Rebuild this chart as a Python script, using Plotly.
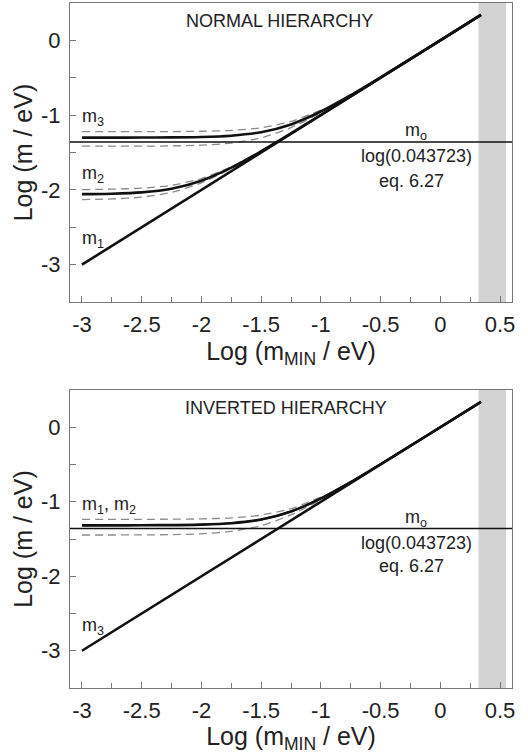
import plotly.graph_objects as go

# ---------------- data ----------------
# Log(m_MIN / eV) sample points
x_curve = [-3.0, -2.75, -2.5, -2.25, -2.0, -1.75, -1.5, -1.25, -1.0, -0.75, -0.5, -0.25, 0.0, 0.34]
x_dash = [-3.0, -2.75, -2.5, -2.25, -2.0, -1.75, -1.5, -1.25, -1.0]
x_diag = [-3.0, 0.34]

# NORMAL hierarchy
nh_m1 = [-3.0, 0.34]
nh_m2 = [-2.057, -2.051, -2.033, -1.984, -1.877, -1.703, -1.484, -1.245, -0.998, -0.749, -0.5, -0.25, 0.0, 0.34]
nh_m3 = [-1.301, -1.301, -1.300, -1.298, -1.293, -1.275, -1.228, -1.124, -0.952, -0.734, -0.495, -0.248, 0.001, 0.34]
nh_m2_up = [-1.996, -1.991, -1.977, -1.939, -1.848, -1.690, -1.479, -1.243, -0.998]
nh_m2_lo = [-2.130, -2.121, -2.097, -2.034, -1.906, -1.716, -1.489, -1.246, -0.999]
nh_m3_up = [-1.222, -1.222, -1.221, -1.220, -1.216, -1.204, -1.169, -1.085, -0.933]
nh_m3_lo = [-1.416, -1.416, -1.415, -1.412, -1.402, -1.374, -1.304, -1.167, -0.970]

# INVERTED hierarchy
ih_m3 = [-3.0, 0.34]
ih_m1 = [-1.320, -1.320, -1.319, -1.317, -1.311, -1.292, -1.241, -1.132, -0.955, -0.735, -0.495, -0.248, 0.0, 0.34]
ih_m2 = [-1.313, -1.312, -1.312, -1.310, -1.304, -1.285, -1.236, -1.129, -0.954, -0.734, -0.495, -0.248, 0.0, 0.34]
ih_up = [-1.236, -1.236, -1.236, -1.234, -1.230, -1.217, -1.180, -1.093, -0.937]
ih_lo = [-1.446, -1.446, -1.445, -1.441, -1.430, -1.398, -1.321, -1.176, -0.974]

m0_level = -1.3593          # log(0.043723)
x_full = [-3.1, 0.6]
band_x = [0.32, 0.55]       # grey excluded region

x_range = [-3.1, 0.6]
y_range = [-3.5, 0.5]
x_tickvals = [-3, -2.5, -2, -1.5, -1, -0.5, 0, 0.5]
x_ticktext = ["-3", "-2.5", "-2", "-1.5", "-1", "-0.5", "0", "0.5"]
y_tickvals = [0, -1, -2, -3]
y_ticktext = ["0", "-1", "-2", "-3"]

# ---------------- figure ----------------
fig = go.Figure()
BLACK = "#111111"
GREY = "#8a8a8a"
FONT = "Liberation Sans, Arial, sans-serif"


def add_line(x, y, xa, ya, width=2.6, color=BLACK, dash=None):
    fig.add_trace(go.Scatter(
        x=x, y=y, xaxis=xa, yaxis=ya, mode="lines",
        line=dict(color=color, width=width, dash=dash, shape="spline", smoothing=0.6),
        showlegend=False, hoverinfo="skip"))


DASH = "8px,5px"
# top panel
add_line(x_dash, nh_m3_up, "x", "y", 1.3, GREY, DASH)
add_line(x_dash, nh_m3_lo, "x", "y", 1.3, GREY, DASH)
add_line(x_dash, nh_m2_up, "x", "y", 1.3, GREY, DASH)
add_line(x_dash, nh_m2_lo, "x", "y", 1.3, GREY, DASH)
add_line(x_full, [m0_level, m0_level], "x", "y", 1.5, BLACK)
add_line(x_diag, nh_m1, "x", "y", 2.6)
add_line(x_curve, nh_m2, "x", "y", 2.6)
add_line(x_curve, nh_m3, "x", "y", 2.6)

# bottom panel
add_line(x_dash, ih_up, "x2", "y2", 1.3, GREY, DASH)
add_line(x_dash, ih_lo, "x2", "y2", 1.3, GREY, DASH)
add_line(x_full, [m0_level, m0_level], "x2", "y2", 1.5, BLACK)
add_line(x_diag, ih_m3, "x2", "y2", 2.6)
add_line(x_curve, ih_m1, "x2", "y2", 2.2)
add_line(x_curve, ih_m2, "x2", "y2", 2.2)

# grey bands
for xr, yr in (("x", "y"), ("x2", "y2")):
    fig.add_shape(type="rect", xref=xr, yref=yr, x0=band_x[0], x1=band_x[1],
                  y0=y_range[0], y1=y_range[1], fillcolor="#d3d3d3",
                  line=dict(width=0), layer="below")

axis_common = dict(
    showline=True, mirror=True, linecolor="#777777", linewidth=1.2,
    ticks="inside", ticklen=6, tickcolor="#777777", tickwidth=1,
    showgrid=False, zeroline=False, automargin=False,
    tickfont=dict(family=FONT, size=22, color="#222222"),
)

xa = dict(axis_common, range=x_range, tickvals=x_tickvals, ticktext=x_ticktext,
          minor=dict(dtick=0.25, tick0=-3, ticks="inside", ticklen=5, tickcolor="#777777"),
          title=dict(text="Log (m<sub>MIN</sub> / eV)", font=dict(family=FONT, size=25, color="#222222"),
                     standoff=2),
          ticklabelstandoff=2)
ya = dict(axis_common, range=y_range, tickvals=y_tickvals, ticktext=y_ticktext,
          minor=dict(dtick=0.5, tick0=0, ticks="inside", ticklen=6, tickcolor="#777777"),
          title=dict(text="Log (m / eV)", font=dict(family=FONT, size=25, color="#222222"),
                     standoff=1),
          ticklabelstandoff=4)

top_dom = [0.5635, 1.0]
bot_dom = [0.0, 0.435]

fig.update_layout(
    width=528, height=754,
    margin=dict(l=70, r=16, t=3, b=66),
    paper_bgcolor="white", plot_bgcolor="white",
    xaxis=dict(xa, domain=[0, 1], anchor="y"),
    yaxis=dict(ya, domain=top_dom, anchor="x"),
    xaxis2=dict(xa, domain=[0, 1], anchor="y2"),
    yaxis2=dict(ya, domain=bot_dom, anchor="x2"),
    font=dict(family=FONT, color="#222222"),
)

ann_font = dict(family=FONT, size=18, color="#222222")


def ann(text, x, y, xr, yr, xanchor="center"):
    fig.add_annotation(text=text, x=x, y=y, xref=xr, yref=yr, showarrow=False,
                       xanchor=xanchor, yanchor="middle", font=ann_font)


# top annotations
ann("NORMAL HIERARCHY", -1.35, 0.26, "x", "y")
ann("m<sub>3</sub>", -3.02, -1.03, "x", "y", "left")
ann("m<sub>2</sub>", -3.02, -1.79, "x", "y", "left")
ann("m<sub>1</sub>", -3.02, -2.67, "x", "y", "left")
ann("m<sub>o</sub>", -0.2, -1.22, "x", "y")
ann("log(0.043723)", -0.2, -1.543, "x", "y")
ann("eq. 6.27", -0.24, -1.877, "x", "y")

# bottom annotations
ann("INVERTED HIERARCHY", -1.29, 0.26, "x2", "y2")
ann("m<sub>1</sub>, m<sub>2</sub>", -3.02, -1.05, "x2", "y2", "left")
ann("m<sub>3</sub>", -3.02, -2.67, "x2", "y2", "left")
ann("m<sub>o</sub>", -0.2, -1.22, "x2", "y2")
ann("log(0.043723)", -0.2, -1.548, "x2", "y2")
ann("eq. 6.27", -0.24, -1.86, "x2", "y2")

fig.write_html("out.html", config={"displayModeBar": False},
               post_script="document.body.style.margin='0';")
